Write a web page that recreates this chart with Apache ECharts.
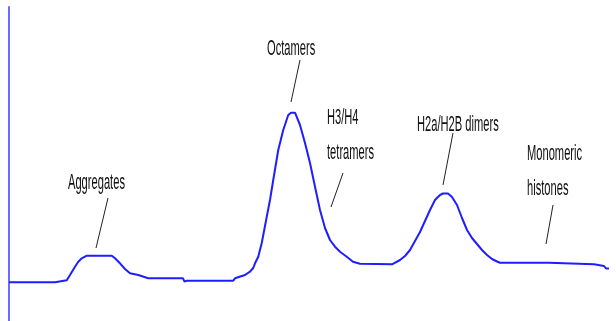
<!DOCTYPE html>
<html>
<head>
<meta charset="utf-8">
<script src="https://cdn.jsdelivr.net/npm/echarts@6/dist/echarts.min.js"></script>
<style>
  html, body { margin: 0; padding: 0; background: #fff; }
  #chart { width: 616px; height: 321px; }
</style>
</head>
<body>
<div id="chart"></div>
<script>
// Size-exclusion elution profile of histone complexes (UV absorbance trace)
const elutionVolume = [
  0.00, 1.84, 1.88, 2.31, 2.44, 2.64, 2.77, 2.91, 3.11, 4.11, 4.24, 4.44, 4.64, 4.84,
  5.17, 5.57, 6.96, 7.02, 7.12, 8.97, 9.04, 9.44, 9.64, 9.77, 9.84, 9.97, 10.11, 10.31,
  10.44, 10.57, 10.77, 10.97, 11.17, 11.28, 11.44, 11.64, 11.84, 12.04, 12.24, 12.44,
  12.64, 12.84, 13.04, 13.24, 13.51, 13.76, 14.04, 15.32, 15.64, 15.84, 16.04, 16.24,
  16.44, 16.64, 16.84, 17.04, 17.24, 17.36, 17.56, 17.72, 17.92, 18.12, 18.32, 18.52,
  18.72, 18.92, 19.12, 19.32, 19.52, 19.64, 21.60, 21.64, 23.40, 23.44, 23.80, 23.88, 24.00
];
const absorbance = [
  19.35, 19.35, 20.15, 20.35, 23.0, 27.15, 29.65, 31.35, 32.65, 32.65, 31.35, 28.85, 26.0, 23.85,
  23.0, 21.35, 21.35, 19.75, 20.15, 20.15, 21.35, 23.0, 24.65, 26.5, 28.85, 32.15, 39.0, 52.15,
  60.5, 70.5, 85.5, 95.5, 103.0, 104.15, 104.15, 98.0, 89.0, 79.0, 67.15, 55.5,
  46.5, 40.5, 37.15, 34.65, 32.15, 29.65, 28.6, 28.35, 30.5, 32.5, 35.5, 40.0,
  44.5, 50.0, 55.5, 60.5, 63.0, 63.75, 63.75, 62.0, 58.0, 51.5, 45.5, 41.5,
  38.5, 35.5, 33.0, 31.0, 29.75, 29.15, 29.15, 28.35, 28.35, 27.5, 27.5, 26.25, 26.25
];

// Peak annotations: label text, pointer start (near label) and end (near peak) in data units
const peakLabels = ['Aggregates', 'Octamers', 'H3/H4\ntetramers', 'H2a/H2B dimers', 'Monomeric\nhistones'];
const pointerFrom = [[3.96, 61.5], [11.64, 130.5], [13.36, 74.0], [17.76, 94.0], [21.76, 58.0]];
const pointerTo = [[3.48, 36.5], [11.28, 109.5], [12.88, 57.0], [17.36, 68.0], [21.48, 38.5]];

// Label placement (left edge, vertical centre of first line), in pixels
const labelLayout = [[68, 183], [267, 49], [327, 118], [417, 125], [527, 154]];
const LINE_HEIGHT = 35;

const chart = echarts.init(document.getElementById('chart'), null, { renderer: 'canvas' });

const seriesData = elutionVolume.map((v, i) => [v, absorbance[i]]);

chart.setOption({
  animation: false,
  backgroundColor: '#ffffff',
  grid: { left: 9, right: 0, top: 7, bottom: 0, containLabel: false },
  xAxis: {
    type: 'value', min: 0, max: 24.28, show: false
  },
  yAxis: {
    type: 'value', min: 0, max: 157,
    axisLine: { show: true, lineStyle: { color: '#6b6bff', width: 2 } },
    axisTick: { show: false },
    axisLabel: { show: false },
    splitLine: { show: false }
  },
  series: [{
    type: 'line',
    data: seriesData,
    showSymbol: false,
    smooth: false,
    lineStyle: { color: '#1e1eff', width: 2 },
    markLine: {
      silent: true,
      symbol: ['none', 'none'],
      label: { show: false },
      lineStyle: { color: '#222222', width: 1, type: 'solid' },
      data: pointerFrom.map((p, i) => [{ coord: p }, { coord: pointerTo[i] }])
    }
  }],
  graphic: peakLabels.map((t, i) => ({
    type: 'text',
    x: labelLayout[i][0],
    y: labelLayout[i][1] - LINE_HEIGHT / 2,
    scaleX: 0.495,
    style: {
      text: t,
      font: '22.5px "Liberation Sans", Arial, sans-serif',
      fill: '#0f0f0f',
      align: 'left',
      verticalAlign: 'top',
      lineHeight: LINE_HEIGHT
    }
  }))
});
</script>
</body>
</html>
